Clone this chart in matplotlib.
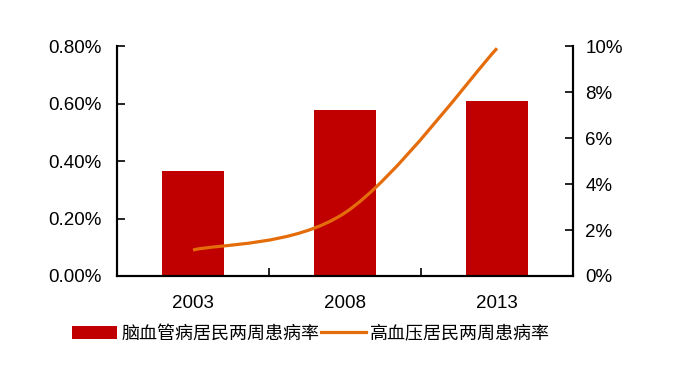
import matplotlib

matplotlib.use("Agg")
import matplotlib.pyplot as plt
from matplotlib.lines import Line2D
from matplotlib.patches import Patch, PathPatch
from matplotlib.path import Path
from matplotlib.ticker import FixedLocator, PercentFormatter

plt.rcParams["font.family"] = ["Liberation Sans", "Noto Sans CJK SC"]

# data (percent)
years = ["2003", "2008", "2013"]
stroke_rate = [0.365, 0.578, 0.609]      # 脑血管病居民两周患病率, left axis
hypertension_rate = [1.13, 2.75, 9.9]    # 高血压居民两周患病率, right axis
bar_label = "脑血管病居民两周患病率"
line_label = "高血压居民两周患病率"

bar_color = "#C00000"
line_color = "#E46C0A"


def smooth_path(xs, ys):
    """Excel-style smoothed line: cubic Bezier segments through the points."""
    pts = list(zip(xs, ys))
    verts = [pts[0]]
    codes = [Path.MOVETO]
    for i in range(len(pts) - 1):
        p0 = pts[i - 1] if i > 0 else pts[i]
        p1 = pts[i]
        p2 = pts[i + 1]
        p3 = pts[i + 2] if i + 2 < len(pts) else pts[i + 1]
        c1 = (p1[0] + (p2[0] - p0[0]) / 6, p1[1] + (p2[1] - p0[1]) / 6)
        c2 = (p2[0] - (p3[0] - p1[0]) / 6, p2[1] - (p3[1] - p1[1]) / 6)
        verts += [c1, c2, p2]
        codes += [Path.CURVE4] * 3
    return Path(verts, codes)


fig = plt.figure(figsize=(6.91, 3.73), dpi=100)
ax = fig.add_axes([117 / 691, 1 - 276 / 373, 456 / 691, 230 / 373])
ax2 = ax.twinx()

x = list(range(len(years)))
ax.bar(x, stroke_rate, width=0.41, color=bar_color, zorder=2)

# smoothed line on the right axis
path = smooth_path(x, hypertension_rate)
ax2.add_patch(PathPatch(path, fill=False, edgecolor=line_color, lw=2.3,
                        capstyle="butt", zorder=3))

ax.set_xlim(-0.5, 2.5)
ax.set_ylim(0, 0.8)
ax2.set_ylim(0, 10)
ax.set_yticks([0, 0.2, 0.4, 0.6, 0.8])
ax2.set_yticks([0, 2, 4, 6, 8, 10])
ax.yaxis.set_major_formatter(PercentFormatter(100, decimals=2))
ax2.yaxis.set_major_formatter(PercentFormatter(100, decimals=0))

ax.set_xticks(x)
ax.set_xticklabels(years)
ax.xaxis.set_minor_locator(FixedLocator([0.5, 1.5, 2.5]))
ax.tick_params(axis="x", which="major", length=0, pad=14, labelsize=13.5)
ax.tick_params(axis="x", which="minor", direction="in", length=6, width=1.2)
ax.tick_params(axis="y", direction="in", length=6, width=1.2, pad=11, labelsize=13.5)
ax2.tick_params(axis="y", direction="in", length=6, width=1.2, pad=9, labelsize=13.5)

for a in (ax, ax2):
    a.spines["top"].set_visible(False)
    for s in ("left", "right", "bottom"):
        a.spines[s].set_linewidth(1.5)

handles = [Patch(facecolor=bar_color, edgecolor="none"),
           Line2D([], [], color=line_color, lw=2.3)]
fig.legend(handles, [bar_label, line_label], loc="center",
           bbox_to_anchor=(311 / 691, 1 - 334 / 373), ncol=2, frameon=False,
           fontsize=13, handlelength=2.5, handleheight=0.7,
           handletextpad=0.2, columnspacing=0.1, borderpad=0)

fig.savefig("out.png", dpi=100)
